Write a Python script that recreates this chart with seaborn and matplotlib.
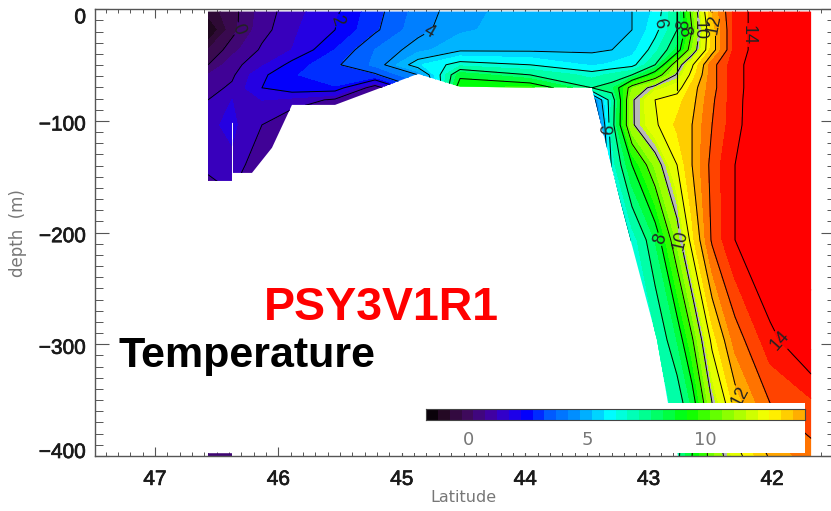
import numpy as np
import matplotlib
matplotlib.use('Agg')
import matplotlib.pyplot as plt
import matplotlib.patheffects as pe
import seaborn as sns
from matplotlib.colors import LinearSegmentedColormap
from matplotlib.path import Path
from matplotlib.patches import PathPatch, Rectangle
from matplotlib.transforms import ScaledTranslation

# section grid
lat = [46.57, 46.376, 46.133, 45.89, 45.541, 45.217, 44.869, 44.528, 43.961, 43.459,
       43.297, 43.135, 42.948, 42.770, 42.648, 42.486, 42.300, 42.016, 41.684]
depth = [2.2, 18.4, 36.3, 49.7, 58.7, 70.3, 81.1, 103.5, 139.3, 206.5, 296.1, 352.6, 400]

# temperature, one row per depth
t_002 = [-0.8, -0.2, 0.7, 1.3, 1.9, 2.8, 3.7, 4.3, 4.8, 5.0, 5.0, 5.0, 5.6, 7.0, 9.3, 12.0, 13.7, 14.5, 15.2]
t_018 = [-1.6, -0.2, 0.8, 1.4, 2.0, 2.9, 3.8, 4.4, 4.8, 5.0, 5.0, 5.0, 5.8, 7.0, 9.0, 11.7, 13.7, 14.5, 15.2]
t_036 = [-0.5, 0.3, 1.1, 1.5, 2.5, 3.5, 4.3, 4.9, 4.9, 4.9, 5.0, 5.3, 6.3, 7.6, 9.5, 11.7, 13.7, 14.5, 15.2]
t_050 = [0.0, 0.8, 1.4, 2.2, 2.9, 3.6, 5.4, 6.3, 6.0, 5.4, 5.6, 5.8, 7.0, 9.6, 10.9, 12.8, 13.8, 14.6, 15.3]
t_059 = [0.5, 0.9, 1.9, 2.4, 3.0, 2.9, 4.0, 7.8, 7.0, 6.3, 6.6, 7.0, 8.5, 10.1, 11.2, 12.8, 13.8, 14.6, 15.3]
t_070 = [0.8, 1.1, 2.0, 2.4, 2.4, 0.6, 3.0, 8.5, 8.6, 7.0, 7.3, 9.4, 10.3, 10.7, 11.7, 12.8, 13.8, 14.6, 15.3]
t_081 = [1.0, 1.5, 1.5, 1.3, 0.9, 0.5, 2.0, 6.0, 6.5, 3.5, 6.6, 9.9, 11.0, 11.3, 11.8, 12.9, 13.8, 14.7, 15.3]
t_103 = [1.4, 1.6, 1.0, 0.5, 0.5, 0.5, 1.0, 3.0, 3.0, 2.0, 6.7, 9.9, 10.9, 11.6, 12.0, 13.0, 13.8, 14.8, 15.3]
t_139 = [1.15, 1.4, 0.5, 0.3, 0.3, 0.3, 0.5, 1.0, 1.0, 1.0, 6.2, 8.0, 9.6, 11.0, 12.0, 13.2, 14.0, 14.8, 15.3]
t_206 = [0.0, 0.3, 0.3, 0.3, 0.3, 0.3, 0.5, 1.0, 1.0, 1.0, 4.0, 6.2, 7.5, 9.6, 11.3, 13.1, 14.0, 14.9, 15.3]
t_296 = [0.4, 0.4, 0.3, 0.3, 0.3, 0.3, 0.5, 1.0, 1.0, 1.0, 4.0, 5.0, 6.4, 7.5, 8.9, 11.2, 12.7, 13.8, 14.7]
t_353 = [0.4, 0.4, 0.3, 0.3, 0.3, 0.3, 0.5, 1.0, 1.0, 1.0, 4.0, 5.0, 6.3, 6.6, 7.6, 10.0, 11.7, 13.0, 13.4]
t_400 = [0.4, 0.4, 0.3, 0.3, 0.3, 0.3, 0.5, 1.0, 1.0, 1.0, 4.0, 5.0, 6.0, 6.8, 8.0, 9.3, 10.7, 12.1, 12.8]

# water outline (sea floor)
floor_lat = [46.57, 46.57, 46.376, 46.376, 46.368, 46.368, 46.214, 46.052, 45.89, 45.541, 44.869,
             44.528, 43.459, 43.232, 42.932, 42.843, 42.762, 41.684, 41.684]
floor_depth = [2.2, 153.7, 153.7, 101.7, 101.7, 146.5, 146.5, 124, 85.6, 85.6, 57.8,
               69.4, 70.3, 170.7, 296, 352.6, 400, 400, 2.2]
strip_lat = [46.57, 46.57, 46.376, 46.376]
strip_depth = [397.5, 400, 400, 397.5]

# jump in the field near 42.77
seam_lat = [42.77, 42.77]
seam_depth = [2.2, 72]

# contour labels
label_lat = [46.31, 45.43, 44.79, 42.84, 42.70, 42.66, 42.58, 42.49, 42.18, 43.35, 42.89, 42.72, 41.96, 42.27]
label_depth = [18, 14, 16, 14, 14, 20, 18, 14, 23, 108, 205, 206, 301, 347]

field_stops = [(-2, '#000000'), (-1, '#2a0a2a'), (0, '#400a60'), (1, '#4000a8'), (1.7, '#2800e0'),
               (2.3, '#0000ff'), (3.2, '#0060ff'), (4, '#0090ff'), (5, '#00bfff'), (5.8, '#00ffff'),
               (7, '#00ff90'), (8.3, '#00ff00'), (9.6, '#90ff00'), (10.5, '#d0ff00'), (11.2, '#ffff00'),
               (12.3, '#ffa000'), (13.1, '#ff5000'), (14, '#ff0000'), (16, '#ff0000')]
bar_stops = [(-1.8, '#000000'), (-1, '#2a0a2a'), (0, '#400a60'), (1, '#4000a8'), (1.7, '#2800e0'),
             (2.5, '#0000ff'), (3.5, '#0060ff'), (4.5, '#0090ff'), (5.2, '#00bfff'), (6, '#00ffff'),
             (7.5, '#00ff90'), (9.2, '#00ff00'), (11, '#90ff00'), (12.7, '#ffff00'), (14.3, '#ff9a00')]
bar_values = [-1.55, -1.05, -0.55, -0.05, 0.45, 0.95, 1.45, 1.95, 2.45, 2.95, 3.45, 3.95, 4.45, 4.95,
              5.45, 5.95, 6.45, 6.95, 7.45, 7.95, 8.45, 8.95, 9.45, 9.95, 10.45, 10.95, 11.45, 11.95,
              12.45, 12.95, 13.45, 13.95]


def stops_cmap(stops):
    lo, hi = stops[0][0], stops[-1][0]
    return LinearSegmentedColormap.from_list('c', [((v - lo) / (hi - lo), c) for v, c in stops]), lo, hi


sns.set_theme(style='ticks')
plt.rcParams['font.family'] = ['Liberation Sans', 'DejaVu Sans']
plt.rcParams['axes.unicode_minus'] = True

W, H = 831, 511
fig = plt.figure(figsize=(W / 100, H / 100), dpi=100, facecolor='white')
ax = fig.add_axes([94.5 / W, 1 - 456 / H, (835 - 94.5) / W, (456 - 9.3) / H])

temps = np.array([t_002, t_018, t_036, t_050, t_059, t_070, t_081, t_103, t_139, t_206, t_296, t_353, t_400])
X, Y = np.meshgrid(lat, -np.array(depth))

levels = sorted(set(list(np.arange(-2, 16.01, 0.5)) + [10.3]))
cmap, lo, hi = stops_cmap(field_stops)
colors = []
for a, b in zip(levels[:-1], levels[1:]):
    if abs(a - 10) < 1e-6:
        colors.append('#b8b8b8')
    else:
        colors.append(cmap(((a + b) / 2 - lo) / (hi - lo)))

cf = ax.contourf(X, Y, temps, levels=levels, colors=colors)
cf.set_edgecolor('face')
cf.set_linewidth(0.4)
cs_odd = ax.contour(X, Y, temps, levels=[1, 3, 5, 7, 9, 11, 13], colors='black', linewidths=0.7)
cs = ax.contour(X, Y, temps, levels=[0, 2, 4, 6, 8, 10, 12, 14], colors='black', linewidths=0.7)
seam, = ax.plot(seam_lat, -np.array(seam_depth), color='black', lw=0.8)

labs = ax.clabel(cs, fmt='%d', fontsize=13, inline=True, inline_spacing=2,
                 manual=list(zip(label_lat, -np.array(label_depth))))
for t in labs:
    t.set_color('#222222')

# clip to the water
verts = list(zip(floor_lat, -np.array(floor_depth))) + [(floor_lat[0], -floor_depth[0])]
codes = [Path.MOVETO] + [Path.LINETO] * (len(verts) - 2) + [Path.CLOSEPOLY]
verts2 = list(zip(strip_lat, -np.array(strip_depth))) + [(strip_lat[0], -strip_depth[0])]
codes2 = [Path.MOVETO] + [Path.LINETO] * (len(verts2) - 2) + [Path.CLOSEPOLY]
water = PathPatch(Path(verts + verts2, codes + codes2), transform=ax.transData, fc='none', ec='none')
ax.add_patch(water)
cf.set_clip_path(water)
cs.set_clip_path(water)
cs_odd.set_clip_path(water)

ax.set_xlim(47.49, 41.49)
ax.set_ylim(-400, 0)
ax.set_xticks([47, 46, 45, 44, 43, 42])
ax.set_xticks(np.arange(41.5, 47.5, 0.1), minor=True)
ax.set_yticks([0, -100, -200, -300, -400])
ax.set_yticks(np.arange(-400, 1, 10), minor=True)
ax.tick_params(axis='x', which='major', length=6.5, width=0.8, color='#555555', top=True, direction='in',
               labelsize=15, labelcolor='#1a1a1a', pad=10)
ax.tick_params(axis='x', which='minor', length=2.6, width=0.7, color='#555555', top=True, direction='in')
ax.tick_params(axis='y', which='major', length=10, width=0.8, color='#555555', right=True, direction='in',
               labelsize=15, labelcolor='#1a1a1a', pad=6)
ax.tick_params(axis='y', which='minor', length=5.8, width=0.7, color='#555555', right=True, direction='in')
for s in ax.spines.values():
    s.set_visible(True)
    s.set_color('#555555')
    s.set_linewidth(1)
ax.grid(False)

for lab in ax.get_xticklabels() + ax.get_yticklabels():
    lab.set_path_effects([pe.withStroke(linewidth=0.5, foreground='#1a1a1a')])
for lab, dy in zip(ax.get_yticklabels(), [-6.5, -2, -2, -2, 5.5]):
    lab.set_transform(lab.get_transform() + ScaledTranslation(0, dy / 100, fig.dpi_scale_trans))

fig.text(463 / W, 1 - 498 / H, 'Latitude', color='#777777', fontsize=11.5, family='DejaVu Sans',
         ha='center', va='center')
fig.text(18 / W, 1 - 233 / H, 'depth  (m)', color='#777777', fontsize=12, family='DejaVu Sans',
         rotation=90, ha='center', va='center')

# colour bar with its white backing
fig.add_artist(Rectangle((400 / W, 1 - 453 / H), 405 / W, 50 / H, transform=fig.transFigure,
                         fc='white', ec='none', zorder=3))
cax = fig.add_axes([426 / W, 1 - 420 / H, 379 / W, 11 / H], zorder=5)
bar_map, blo, bhi = stops_cmap(bar_stops)
sns.heatmap(np.array(bar_values).reshape(1, -1), ax=cax, cmap=bar_map, vmin=blo, vmax=bhi, cbar=False,
            xticklabels=False, yticklabels=False)
cax.set_xticks([(v + 1.8) / 0.5 for v in (0, 5, 10)])
cax.set_xticklabels(['0', '5', '10'], color='#777777', fontsize=13, family='DejaVu Sans', rotation=0)
cax.tick_params(axis='x', length=0, pad=8)
cax.tick_params(axis='y', length=0)
for s in cax.spines.values():
    s.set_visible(True)
    s.set_color('#444444')
    s.set_linewidth(0.8)

fig.text(381 / W, 1 - 308 / H, 'PSY3V1R1', color='#ff0000', fontsize=33.5, fontweight='bold',
         ha='center', va='center', zorder=6)
fig.text(247 / W, 1 - 356 / H, 'Temperature', color='black', fontsize=31, fontweight='bold',
         ha='center', va='center', zorder=6)

fig.savefig('out.png', dpi=100)
